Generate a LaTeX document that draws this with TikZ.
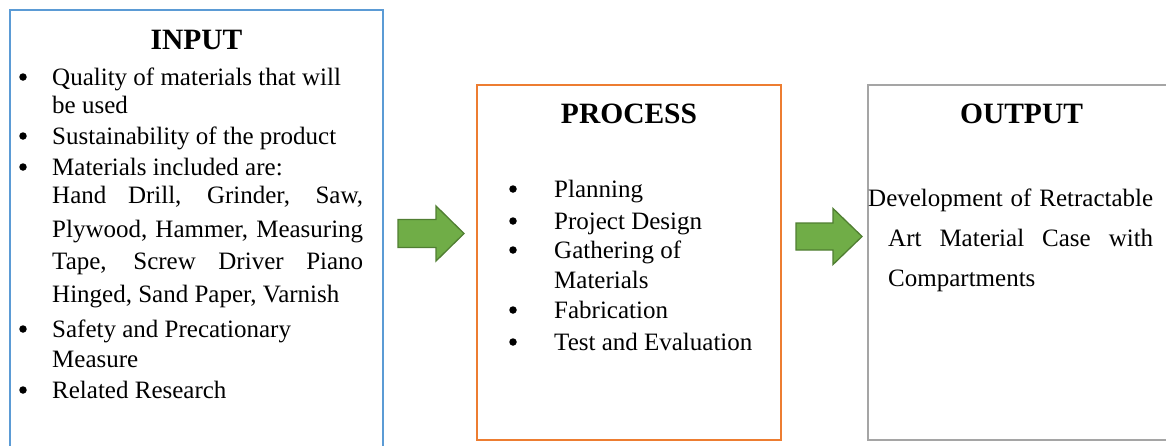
\documentclass[tikz,border=0pt]{standalone}
\usepackage{fontspec}
\setmainfont{Liberation Serif}
\definecolor{inblue}{HTML}{5B9BD5}
\definecolor{procorange}{HTML}{ED7D31}
\definecolor{outgray}{HTML}{A5A5A5}
\definecolor{arrowfill}{HTML}{70AD47}
\definecolor{arrowline}{HTML}{507E32}
\tikzset{
  boxline/.style={line width=2pt},
  bigarrow/.style={fill=arrowfill, draw=arrowline, line width=1.3pt, line join=miter},
  bodytext/.style={anchor=base west, inner sep=0pt, font=\fontsize{25}{30}\selectfont},
  titletext/.style={anchor=base, inner sep=0pt, font=\fontsize{29.5}{35}\selectfont\bfseries},
  dot/.style={circle, fill=black, inner sep=0pt, minimum size=7.5pt},
}
\begin{document}
\begin{tikzpicture}[x=1pt,y=-1pt]
\clip (0,0) rectangle (1166,445);
\fill[white] (0,0) rectangle (1166,445);
% boxes
\draw[boxline, draw=inblue] (10,450) -- (10,10) -- (383,10) -- (383,450);
\draw[boxline, draw=procorange] (477,85) rectangle (781,440);
\draw[boxline, draw=outgray] (1175,85) -- (868,85) -- (868,440) -- (1175,440);
% arrows
\draw[bigarrow] (398,219.5) -- (436,219.5) -- (436,206) -- (464,233.5) -- (436,261) -- (436,247.5) -- (398,247.5) -- cycle;
\draw[bigarrow] (796,223) -- (833,223) -- (833,208.5) -- (862,236.5) -- (833,264.5) -- (833,250) -- (796,250) -- cycle;
% INPUT
\node[titletext] (tin) at (196.5,49) {INPUT};
\node[dot] (b1) at (23,77) {};
\node[bodytext] (i1) at (52,85) {Quality of materials that will};
\node[bodytext] (i1b) at (52,113) {be used};
\node[dot] (b2) at (23,136) {};
\node[bodytext] (i2) at (52,144) {Sustainability of the product};
\node[dot] (b3) at (23,167) {};
\node[bodytext] (i3) at (52,175) {Materials included are:};
\node[bodytext] (i3a) at (52,203) {\makebox[311pt][s]{Hand Drill, Grinder, Saw,}};
\node[bodytext] (i3b) at (52,237) {\makebox[311pt][s]{Plywood, Hammer, Measuring}};
\node[bodytext] (i3c) at (52,269) {\makebox[311pt][s]{Tape, Screw Driver Piano}};
\node[bodytext] (i3d) at (52,302) {Hinged, Sand Paper, Varnish};
\node[dot] (b4) at (23,329) {};
\node[bodytext] (i4) at (52,337) {Safety and Precationary};
\node[bodytext] (i4b) at (52,367) {Measure};
\node[dot] (b5) at (23,390) {};
\node[bodytext] (i5) at (52,398) {Related Research};
% PROCESS
\node[titletext] (tproc) at (629,123) {PROCESS};
\node[dot] (p1d) at (513,189) {};
\node[bodytext] (p1) at (554,197) {Planning};
\node[dot] (p2d) at (513,221) {};
\node[bodytext] (p2) at (554,229) {Project Design};
\node[dot] (p3d) at (513,250) {};
\node[bodytext] (p3) at (554,258) {Gathering of};
\node[bodytext] (p3b) at (554,288) {Materials};
\node[dot] (p4d) at (513,310) {};
\node[bodytext] (p4) at (554,318) {Fabrication};
\node[dot] (p5d) at (513,342) {};
\node[bodytext] (p5) at (554,350) {Test and Evaluation};
% OUTPUT
\node[titletext] (tout) at (1021.5,123) {OUTPUT};
\node[bodytext] (o1) at (868,206) {\makebox[285pt][s]{Development of Retractable}};
\node[bodytext] (o2) at (888,246) {\makebox[265pt][s]{Art Material Case with}};
\node[bodytext] (o3) at (888,286) {Compartments};
\end{tikzpicture}
\end{document}
